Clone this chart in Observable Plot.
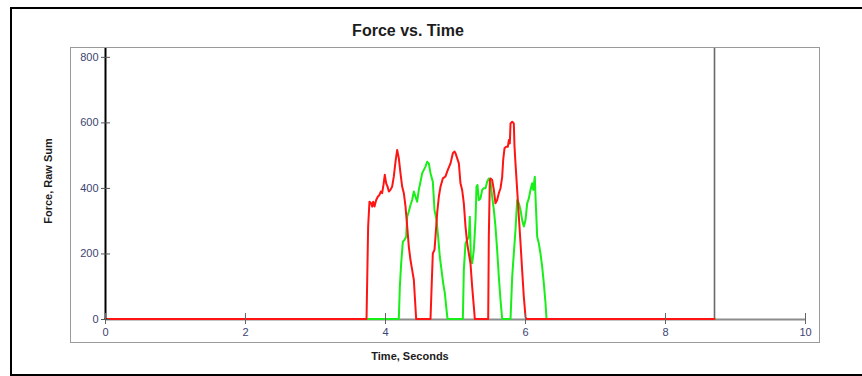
<!DOCTYPE html>
<html>
<head>
<meta charset="utf-8">
<script src="https://cdn.jsdelivr.net/npm/d3@7"></script>
<script src="https://cdn.jsdelivr.net/npm/@observablehq/plot@0.6"></script>
<style>
  body { margin: 0; background: #fff; }
  #wrap { position: relative; width: 862px; height: 376px; overflow: hidden; font-family: Arial, "Liberation Sans", sans-serif; background: #fff; }
  #chart { position: absolute; left: 0; top: 0; }
  .deco { position: absolute; box-sizing: border-box; pointer-events: none; z-index: 2; }
  #outer { left: 10px; top: 7px; width: 900px; height: 369px; border: 2.5px solid #000; }
  #panel { left: 70px; top: 47px; width: 750px; height: 296px; border: 1.5px solid #9a9a9a; }
  .txt { position: absolute; white-space: nowrap; color: #1c1c1c; font-weight: bold; z-index: 3; }
  #title { left: 408px; top: 23px; font-size: 16px; line-height: 16px; transform: translateX(-50%); }
  #xlabel { left: 410px; top: 351px; font-size: 11px; line-height: 11px; transform: translateX(-50%); }
  #ylabel { left: 48px; top: 181px; font-size: 11px; line-height: 11px; transform: translate(-50%, -50%) rotate(-90deg); }
</style>
</head>
<body>
<div id="wrap">
  <div id="outer" class="deco"></div>
  <div id="panel" class="deco"></div>
  <div id="title" class="txt">Force vs. Time</div>
  <div id="xlabel" class="txt">Time, Seconds</div>
  <div id="ylabel" class="txt">Force, Raw Sum</div>
  <div id="chart"></div>
</div>
<script>
// Tick values
const xTicks = [0, 2, 4, 6, 8, 10];
const yTicks = [0, 200, 400, 600, 800];

// Series: [time (s), force (raw sum)]
const redSeries = [
  [0, 0], [3.729, 0], [3.752, 282], [3.771, 358], [3.795, 353], [3.81, 343], [3.824, 358], [3.843, 343],
  [3.867, 363], [3.89, 373], [3.914, 379], [3.933, 389], [3.952, 384], [3.971, 409], [3.99, 440], [4.01, 414],
  [4.029, 404], [4.048, 389], [4.071, 394], [4.095, 404], [4.119, 435], [4.143, 480], [4.167, 516], [4.19, 491],
  [4.214, 445], [4.238, 404], [4.262, 384], [4.286, 343], [4.31, 282], [4.333, 221], [4.357, 180], [4.381, 150],
  [4.405, 119], [4.419, 68], [4.438, 0],
  [4.643, 0], [4.657, 88], [4.676, 200], [4.7, 211], [4.714, 251], [4.738, 323], [4.762, 373], [4.786, 404],
  [4.819, 429], [4.857, 435], [4.89, 455], [4.929, 475], [4.962, 506], [4.986, 511], [5.0, 506], [5.048, 475],
  [5.071, 414], [5.095, 394], [5.119, 353], [5.143, 282], [5.167, 231], [5.19, 200], [5.214, 170], [5.238, 99],
  [5.262, 38], [5.276, 0],
  [5.467, 0], [5.476, 250], [5.49, 420], [5.5, 429], [5.524, 424], [5.548, 394], [5.571, 353], [5.595, 363],
  [5.619, 384], [5.643, 399], [5.667, 434], [5.681, 485], [5.7, 521], [5.724, 526], [5.748, 526], [5.762, 546],
  [5.776, 536], [5.786, 597], [5.81, 602], [5.833, 597], [5.843, 526], [5.857, 475], [5.881, 394], [5.905, 312],
  [5.929, 231], [5.952, 149], [5.976, 68], [6.0, 7], [6.01, 0], [8.7, 0]
];

const greenSeries = [
  [0, 0], [4.19, 0], [4.205, 99], [4.224, 170], [4.248, 236], [4.271, 241], [4.295, 251], [4.31, 312],
  [4.333, 328], [4.357, 348], [4.381, 363], [4.405, 389], [4.429, 373], [4.452, 358], [4.476, 394], [4.5, 419],
  [4.524, 445], [4.548, 455], [4.571, 465], [4.595, 480], [4.619, 475], [4.643, 445], [4.676, 419], [4.7, 333],
  [4.729, 302], [4.752, 251], [4.776, 190], [4.8, 150], [4.824, 109], [4.848, 78], [4.867, 38], [4.886, 0],
  [5.105, 0], [5.119, 149], [5.143, 231], [5.19, 251], [5.205, 312], [5.219, 190], [5.238, 170], [5.262, 211],
  [5.286, 302], [5.3, 404], [5.314, 409], [5.333, 363], [5.357, 368], [5.381, 394], [5.405, 399], [5.429, 399],
  [5.452, 419], [5.476, 429], [5.5, 419], [5.524, 373], [5.548, 333], [5.571, 282], [5.595, 211], [5.619, 129],
  [5.643, 58], [5.667, 0],
  [5.786, 0], [5.81, 129], [5.833, 200], [5.857, 272], [5.881, 363], [5.905, 353], [5.929, 333], [5.952, 302],
  [5.976, 282], [6.0, 302], [6.024, 353], [6.048, 368], [6.071, 394], [6.095, 414], [6.11, 394], [6.133, 434],
  [6.143, 373], [6.167, 251], [6.19, 231], [6.214, 200], [6.238, 160], [6.262, 109], [6.286, 48], [6.3, 0],
  [8.7, 0]
];

const tEnd = d3.max(redSeries, d => d[0]);

const tickLabelColor = "#3d4470";
const chart = Plot.plot({
  width: 862,
  height: 376,
  marginLeft: 105,
  marginRight: 57,
  marginTop: 48,
  marginBottom: 57,
  style: { background: "transparent", fontFamily: "Arial, 'Liberation Sans', sans-serif", fontSize: "11px" },
  x: { domain: [0, 10] },
  y: { domain: [0, 827] },
  marks: [
    Plot.ruleY([0], { stroke: "#8c8c8c", strokeWidth: 2 }),
    Plot.ruleX([tEnd], { stroke: "#6a6a6a", strokeWidth: 1.6 }),
    Plot.line(greenSeries, { x: d => d[0], y: d => d[1], stroke: "#18ee18", strokeWidth: 2, dy: -0.5 }),
    Plot.line(redSeries, { x: d => d[0], y: d => d[1], stroke: "#ff1414", strokeWidth: 2, dy: -0.5 }),
    Plot.ruleX([0], { stroke: "#000", strokeWidth: 2 }),
    Plot.axisX(xTicks, { anchor: "bottom", tickSize: 5, tickPadding: 4, stroke: "#666", fill: tickLabelColor, label: null, fontSize: 11 }),
    Plot.axisX(xTicks, { anchor: "bottom", tickSize: 6, dy: -6, stroke: "#666", tickFormat: () => "", label: null }),
    Plot.axisY(yTicks, { anchor: "left", tickSize: 4, tickPadding: 3, stroke: "#555", fill: tickLabelColor, label: null, fontSize: 11 }),
    Plot.axisY(yTicks, { anchor: "left", tickSize: 5, dx: 5, stroke: "#555", tickFormat: () => "", label: null })
  ]
});
document.getElementById("chart").appendChild(chart);
</script>
</body>
</html>
